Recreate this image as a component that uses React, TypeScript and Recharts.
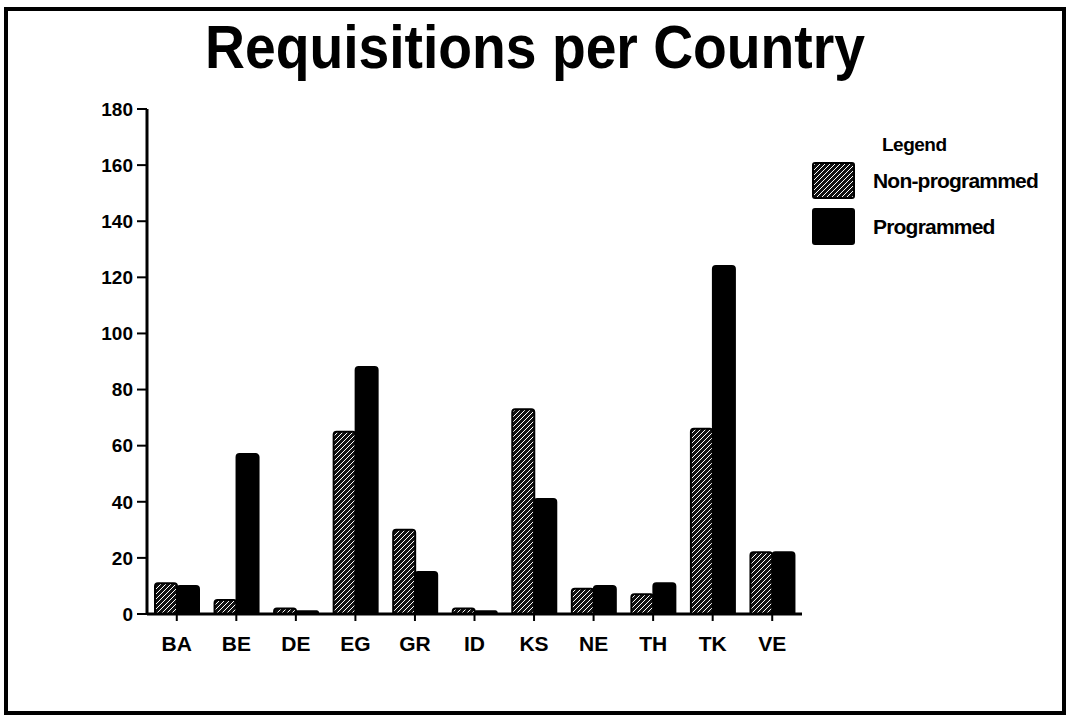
import { BarChart, Bar, XAxis, YAxis } from 'recharts'

const categories = ['BA', 'BE', 'DE', 'EG', 'GR', 'ID', 'KS', 'NE', 'TH', 'TK', 'VE']
const nonProgrammed = [11, 5, 2, 65, 30, 2, 73, 9, 7, 66, 22]
const programmed = [10, 57, 1, 88, 15, 1, 41, 10, 11, 124, 22]
const yTicks = [0, 20, 40, 60, 80, 100, 120, 140, 160, 180]

const FONT = '"Liberation Sans", Arial, Helvetica, sans-serif'
const HATCH = 'url(#hatch)'

const series = [
  { key: 'nonProgrammed', name: 'Non-programmed', fill: HATCH },
  { key: 'programmed', name: 'Programmed', fill: '#000' },
]

const chartData = categories.map((name, i) => ({
  name,
  nonProgrammed: nonProgrammed[i],
  programmed: programmed[i],
}))

function HatchDefs() {
  return (
    <defs>
      <pattern id="hatch" patternUnits="userSpaceOnUse" width="5" height="5">
        <rect width="5" height="5" fill="#111" />
        <path d="M0,5 L5,0 M-1,1 L1,-1 M4,6 L6,4" stroke="#fff" strokeWidth="1" />
      </pattern>
    </defs>
  )
}

function ChartLegend() {
  return (
    <div style={{ position: 'absolute', left: 812, top: 134, fontFamily: FONT, fontWeight: 700, color: '#000' }}>
      <div style={{ fontSize: 19, marginLeft: 70, lineHeight: '22px', letterSpacing: -0.5 }}>Legend</div>
      {series.map((s, i) => (
        <div key={s.key} style={{ display: 'flex', alignItems: 'center', marginTop: i === 0 ? 6 : 9 }}>
          <svg width={43} height={37} style={{ display: 'block' }}>
            <rect x={1} y={1} width={41} height={35} rx={2} fill={s.fill} stroke="#000" strokeWidth={2} />
          </svg>
          <span style={{ fontSize: 21, marginLeft: 18, letterSpacing: -0.8 }}>{s.name}</span>
        </div>
      ))}
    </div>
  )
}

export default function App() {
  return (
    <div style={{ position: 'absolute', left: 0, top: 0, width: 1069, height: 720, background: '#fff' }}>
      <svg width={1069} height={720} style={{ position: 'absolute', left: 0, top: 0 }}>
        <HatchDefs />
        <rect x={6} y={9} width={1058} height={704} fill="none" stroke="#000" strokeWidth={4} />
        <text
          x={535}
          y={68}
          textAnchor="middle"
          fontFamily={FONT}
          fontWeight={700}
          fontSize={62}
          textLength={660}
          lengthAdjust="spacingAndGlyphs"
          fill="#000"
        >
          Requisitions per Country
        </text>
      </svg>
      <div style={{ position: 'absolute', left: 0, top: 0 }}>
        <BarChart
          width={1069}
          height={720}
          data={chartData}
          margin={{ top: 109, right: 267, bottom: 66, left: 87 }}
          barSize={22}
          barGap={0}
        >
          <HatchDefs />
          <XAxis
            dataKey="name"
            axisLine={{ stroke: '#000', strokeWidth: 3 }}
            tickLine={{ stroke: '#000', strokeWidth: 2 }}
            tickSize={7}
            tickMargin={15}
            height={40}
            tick={{ fill: '#000', fontSize: 21, fontWeight: 700, fontFamily: FONT }}
            interval={0}
          />
          <YAxis
            domain={[0, 180]}
            ticks={yTicks}
            width={60}
            axisLine={{ stroke: '#000', strokeWidth: 3 }}
            tickLine={{ stroke: '#000', strokeWidth: 2 }}
            tickSize={10}
            tickMargin={4}
            tick={{ fill: '#000', fontSize: 19, fontWeight: 700, fontFamily: FONT }}
          />
          {series.map((s) => (
            <Bar
              key={s.key}
              dataKey={s.key}
              name={s.name}
              fill={s.fill}
              stroke="#000"
              strokeWidth={2}
              radius={[3, 3, 0, 0]}
              isAnimationActive={false}
            />
          ))}
        </BarChart>
      </div>
      <ChartLegend />
    </div>
  )
}
